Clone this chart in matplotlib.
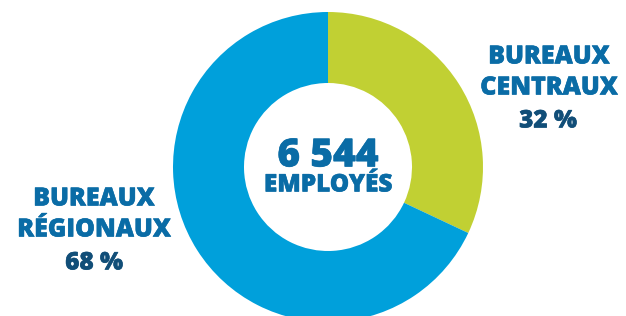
import matplotlib.pyplot as plt
import matplotlib.patheffects as pe

# data
groups = ['BUREAUX\nCENTRAUX', 'BUREAUX\nRÉGIONAUX']
shares = [32, 68]
share_labels = ['32 %', '68 %']
total_label = '6 544'
total_caption = 'EMPLOYÉS'

green = '#C1D033'
blue = '#00A0DB'
label_blue = '#0A6CA6'
dark_blue = '#114E78'

W, H = 626, 316
fig = plt.figure(figsize=(W / 100, H / 100), dpi=100)
ax = fig.add_axes([0, 0, 1, 1])

# donut, y measured from the top of the image
cx, cy = 328, H - 167
ax.pie(shares, colors=[green, blue], startangle=90, counterclock=False,
       radius=155, center=(cx, cy),
       wedgeprops=dict(width=71, linewidth=0))
ax.set_xlim(0, W)
ax.set_ylim(0, H)
ax.set_aspect('equal')
ax.axis('off')

font = 'Open Sans'


def label(x, y, s, size, color):
    t = ax.text(x, H - y, s, ha='center', va='center', fontsize=size,
                fontweight='heavy', color=color, family=font)
    t.set_path_effects([pe.withStroke(linewidth=0.4, foreground=color)])


# centre text
label(cx, 156, total_label, 28, label_blue)
label(cx, 185, total_caption, 17.5, label_blue)

# right label (bureaux centraux)
for i, line in enumerate(groups[0].split('\n')):
    label(549, 57 + 31 * i, line, 18, label_blue)
label(548, 121, share_labels[0], 17.5, dark_blue)

# left label (bureaux régionaux)
for i, line in enumerate(groups[1].split('\n')):
    label(94, 199 + 31 * i, line, 18, label_blue)
label(94, 263, share_labels[1], 17.5, dark_blue)

fig.savefig('out.png', dpi=100)
